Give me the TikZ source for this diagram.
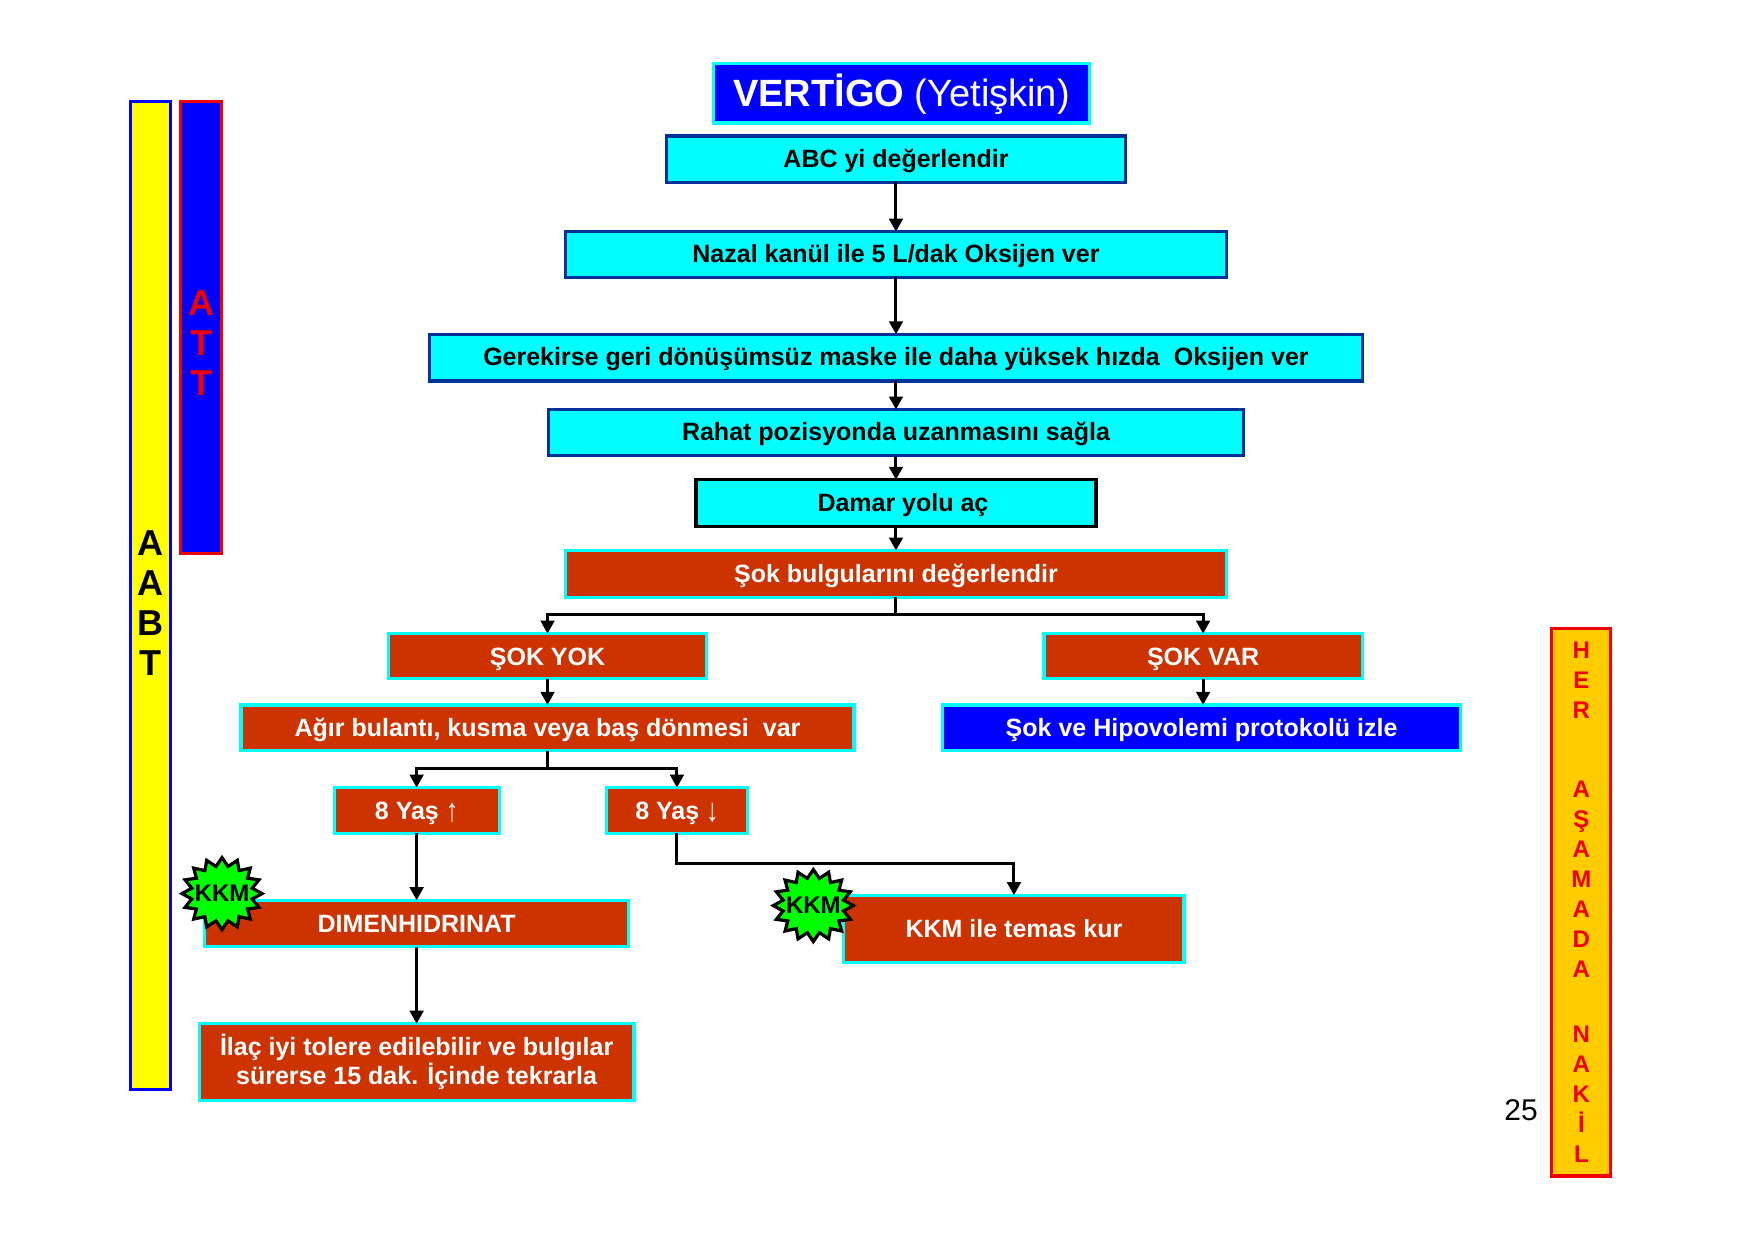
\documentclass[tikz,border=0pt]{standalone}
\usepackage{fontspec}
\setmainfont{Liberation Sans}
\usetikzlibrary{arrows.meta,shapes.geometric}
\definecolor{rust}{HTML}{CC3300}
\definecolor{navy}{HTML}{003399}
\definecolor{cyn}{HTML}{00FFFF}
\definecolor{blu}{HTML}{0000FF}
\definecolor{yel}{HTML}{FFFF00}
\definecolor{org}{HTML}{FFCC00}
\definecolor{grn}{HTML}{00FF00}
\definecolor{redd}{HTML}{F00000}
\newcommand{\fs}[1]{\fontsize{#1}{#1}\selectfont}
\newcommand{\tallarrow}[1]{\raisebox{-2pt}{\scalebox{1}[1.3]{\mdseries #1}}}
% name, style, x0, y0, x1, y1, text
\newcommand{\bx}[7]{\node[boxbase,#2,minimum width={(#5-#3)*.9955pt-3.2pt},minimum height={(#6-#4)*.9962pt-3.2pt}] (#1) at ({(#3+#5)/2},{(#4+#6)/2}) {#7};}
\tikzset{
  boxbase/.style={rectangle,inner sep=0pt,outer sep=0pt,line width=3.2pt,align=center,font=\fs{25}\bfseries},
  oneline/.style={text height=18pt,text depth=0pt},
  lightbox/.style={fill=cyn,draw=navy,text=black,text height=16.5pt,text depth=0pt},
  lightblack/.style={fill=cyn,draw=black,text=black,text height=16.5pt,text depth=0pt},
  rustbox/.style={fill=rust,draw=cyn,text=white},
  rustone/.style={rustbox,oneline},
  bluebox/.style={fill=blu,draw=cyn,text=white},
  flow/.style={line width=3pt,-{Triangle[length=13pt,width=13.5pt]},black},
  plainline/.style={line width=3pt,black},
  burst/.style={star,star points=16,star point ratio=1.3,minimum size=80pt,inner sep=0pt,fill=grn,draw=black,line width=3.2pt,font=\fs{24}\bfseries,text=black,transform shape,yscale=.9},
  stack/.style={align=center,inner sep=0pt,font=\fs{36}\bfseries},
}
\begin{document}
\begin{tikzpicture}[x=.9955pt,y=-.9962pt]
\useasboundingbox (0,0) rectangle (1762.9,1244.7);
\fill[white] (0,0) rectangle (1762.9,1244.7);
% side bars
\bx{abt}{fill=yel,draw=blu}{129.5}{100}{173}{1095}{}
\bx{att}{fill=blu,draw=redd}{180}{100}{224}{557}{}
\bx{her}{fill=org,draw=redd}{1557}{629}{1619}{1182}{}
\node[stack,text=black] (abtt) at (151.5,605) {A\\[4pt]A\\[4pt]B\\[4pt]T};
\node[stack,text=redd] (attt) at (202.5,344) {A\\[4pt]T\\[4pt]T};
\node[stack,text=redd,font=\fs{24}\bfseries] (hert) at (1588.5,905.5) {H\\[6pt]E\\[6pt]R\\[55pt]A\\[6pt]Ş\\[6pt]A\\[6pt]M\\[6pt]A\\[6pt]D\\[6pt]A\\[41pt]N\\[6pt]A\\[6pt]K\\[6pt]İ\\[6pt]L};
\node[inner sep=0pt,font=\fs{30}] (page) at (1528,1114) {25};
% main column
\bx{title}{bluebox,text height=27pt,text depth=0pt}{715}{62}{1096}{125}{\fs{38}VERTİGO \mdseries(Yetişkin)}
\bx{abc}{lightbox}{667.5}{135}{1132.5}{184.5}{ABC yi değerlendir}
\bx{nazal}{lightbox}{566.5}{231}{1233.5}{280}{Nazal kanül ile 5 L/dak Oksijen ver}
\bx{ger}{lightbox}{430}{334}{1370}{384}{Gerekirse geri dönüşümsüz maske ile daha yüksek hızda\hspace{7pt} Oksijen ver}
\bx{rahat}{lightbox}{549}{409.5}{1251}{459}{Rahat pozisyonda uzanmasını sağla}
\bx{damar}{lightblack}{697.5}{480}{1102.5}{530}{\hspace*{14pt}Damar yolu aç}
\bx{sok}{rustone}{566.5}{551}{1233.5}{601}{Şok bulgularını değerlendir}
\bx{yok}{rustone}{389}{634.5}{711}{683}{ŞOK YOK}
\bx{var}{rustone}{1047}{634.5}{1370}{683}{ŞOK VAR}
\bx{agir}{rustone}{240.5}{706}{859.5}{755}{Ağır bulantı, kusma veya baş dönmesi\hspace{7pt} var}
\bx{hipo}{bluebox,oneline}{945}{706}{1469}{755}{Şok ve Hipovolemi protokolü izle}
\bx{up}{rustone}{334}{789}{503}{838}{8 Yaş \tallarrow{↑}}
\bx{down}{rustone}{607.5}{789}{752.5}{838}{8 Yaş \tallarrow{↓}}
\bx{dimen}{rustone,text height=17pt}{204}{902}{633}{952}{DIMENHIDRINAT}
\bx{temas}{rustone}{846}{897}{1191}{968}{KKM ile temas kur}
\bx{ilac}{rustbox}{198.5}{1026}{638.5}{1106}{İlaç iyi tolere edilebilir ve bulgılar\\[2pt]sürerse 15 dak. İçinde tekrarla}
% stars
\node[burst] (k1) at (223,897) {\makebox[0pt]{\scalebox{1}[1.11]{KKM}}};
\node[burst] (k2) at (817,909) {\makebox[0pt]{\scalebox{1}[1.11]{KKM}}};
% connectors
\draw[flow] (abc) -- (nazal);
\draw[flow] (nazal) -- (ger);
\draw[flow] (ger) -- (rahat);
\draw[flow] (rahat) -- (damar);
\draw[flow] (damar) -- (sok);
\coordinate (b1) at ([yshift=-17pt]sok.south);
\coordinate (b2) at ([yshift=-18pt]agir.south);
\coordinate (b3) at ([yshift=32pt]temas.north);
\draw[plainline] (sok.south) -- (b1);
\draw[flow] (b1) -| (yok.north);
\draw[flow] (b1) -| (var.north);
\draw[flow] (yok) -- (agir);
\draw[flow] (var.south) -- (var.south |- hipo.north);
\draw[plainline] (agir.south) -- (b2);
\draw[flow] (b2) -| (up.north);
\draw[flow] (b2) -| (down.north);
\draw[flow] (up) -- (dimen);
\draw[flow] (dimen) -- (ilac);
\draw[flow] (down.south) |- (b3) -- (temas.north);
\end{tikzpicture}
\end{document}
